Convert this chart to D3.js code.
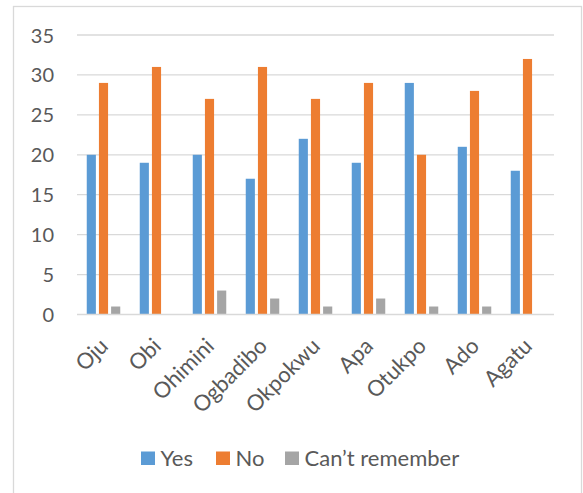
<!DOCTYPE html>
<html>
<head>
<meta charset="utf-8">
<script src="https://cdn.jsdelivr.net/npm/d3@7"></script>
<style>
  html, body { margin: 0; padding: 0; background: #fff; }
  svg { display: block; }
  text { font-family: Lato, "Open Sans", sans-serif; fill: #595959; }
</style>
</head>
<body>
<svg id="chart" width="583" height="493"></svg>
<script>
const categories = ["Oju", "Obi", "Ohimini", "Ogbadibo", "Okpokwu", "Apa", "Otukpo", "Ado", "Agatu"];
const seriesNames = ["Yes", "No", "Can\u2019t remember"];
const yesValues = [20, 19, 20, 17, 22, 19, 29, 21, 18];
const noValues = [29, 31, 27, 31, 27, 29, 20, 28, 32];
const cantValues = [1, 0, 3, 2, 1, 2, 1, 1, 0];
const yTicks = [0, 5, 10, 15, 20, 25, 30, 35];
const colors = ["#5B9BD5", "#ED7D31", "#A5A5A5"];

const seriesValues = [yesValues, noValues, cantValues];
const data = categories.map((c, i) => ({
  cat: c,
  vals: seriesNames.map((s, k) => ({ key: s, value: seriesValues[k][i] }))
}));

const svg = d3.select("#chart");

// chart frame
svg.append("rect")
  .attr("x", 13.5).attr("y", 6.5)
  .attr("width", 568).attr("height", 500)
  .attr("fill", "#fff").attr("stroke", "#D9D9D9").attr("stroke-width", 1.3);

const plot = { left: 77, right: 554, top: 35, bottom: 314.5 };

const x = d3.scaleBand().domain(categories).range([plot.left, plot.right]).paddingInner(0).paddingOuter(0);
const y = d3.scaleLinear().domain([0, 35]).range([plot.bottom, plot.top]);

const groupW = 33.5;
const x1 = d3.scaleBand().domain(seriesNames).range([0, groupW]).paddingInner(0.25).paddingOuter(0);

// gridlines
svg.append("g").selectAll("line").data(yTicks.filter(t => t > 0)).join("line")
  .attr("x1", plot.left).attr("x2", plot.right)
  .attr("y1", d => y(d)).attr("y2", d => y(d))
  .attr("stroke", "#D9D9D9").attr("stroke-width", 1.3);

// y axis labels
const yAxis = d3.axisLeft(y).tickValues(yTicks).tickSize(0).tickPadding(0);
const gy = svg.append("g").attr("transform", `translate(${plot.left - 23},0)`).call(yAxis);
gy.select(".domain").remove();
gy.selectAll("text").style("font-size", "20px").attr("fill", "#595959")
  .style("font-family", "Lato, 'Open Sans', sans-serif").attr("dy", "0.35em");

// bars
const groups = svg.append("g").selectAll("g").data(data).join("g")
  .attr("transform", d => `translate(${x(d.cat) + x.bandwidth() / 2 - groupW / 2},0)`);
groups.selectAll("rect").data(d => d.vals).join("rect")
  .attr("x", d => x1(d.key))
  .attr("width", x1.bandwidth())
  .attr("y", d => y(d.value))
  .attr("height", d => y(0) - y(d.value))
  .attr("fill", (d, i) => colors[i]);

// x axis line
svg.append("line")
  .attr("x1", plot.left).attr("x2", plot.right)
  .attr("y1", y(0)).attr("y2", y(0))
  .attr("stroke", "#D9D9D9").attr("stroke-width", 1.5);

// x axis labels
const xAxis = d3.axisBottom(x).tickSize(0).tickPadding(0);
const gx = svg.append("g").attr("transform", `translate(0,${plot.bottom})`).call(xAxis);
gx.select(".domain").remove();
gx.selectAll("text")
  .style("font-size", "22px")
  .style("font-family", "Lato, 'Open Sans', sans-serif")
  .attr("fill", "#595959")
  .attr("text-anchor", "end")
  .attr("dy", null)
  .attr("y", null)
  .attr("transform", "translate(6,33) rotate(-45)");

// legend
const legendItems = [
  { name: seriesNames[0], color: colors[0], x: 141 },
  { name: seriesNames[1], color: colors[1], x: 216 },
  { name: seriesNames[2], color: colors[2], x: 285 }
];
const lg = svg.append("g").selectAll("g").data(legendItems).join("g")
  .attr("transform", d => `translate(${d.x},451.5)`);
lg.append("rect").attr("width", 14).attr("height", 13.5).attr("fill", d => d.color);
lg.append("text").attr("x", 19.5).attr("y", 14.5).style("font-size", "22px").text(d => d.name);
</script>
</body>
</html>
